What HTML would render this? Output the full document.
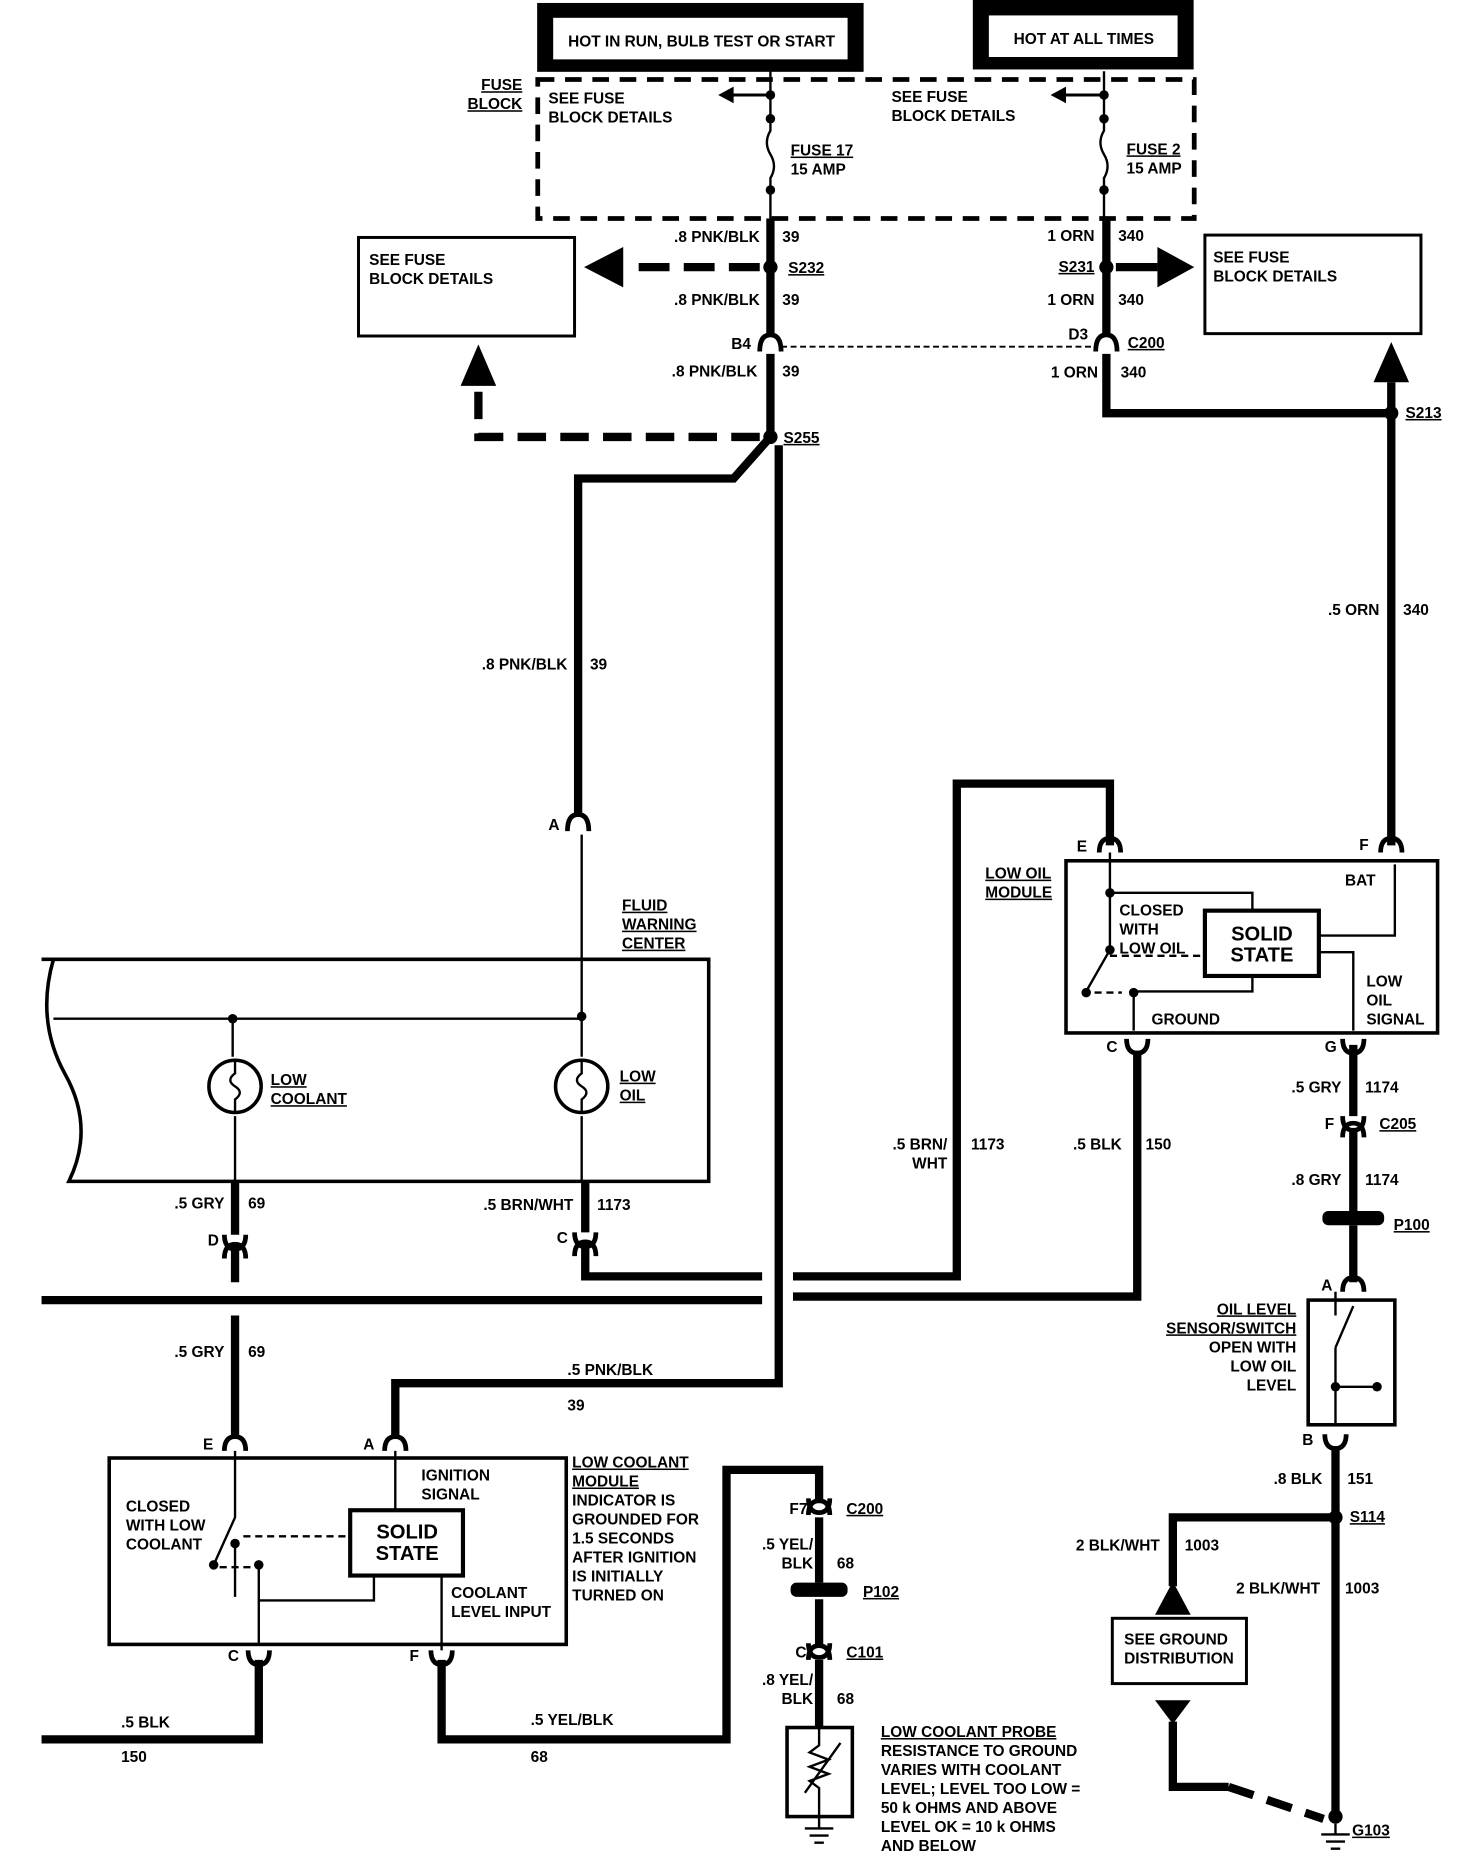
<!DOCTYPE html>
<html><head><meta charset="utf-8"><style>
html,body{margin:0;padding:0;background:#fff;}
svg{display:block;}
text{font-family:"Liberation Sans",sans-serif;font-weight:bold;font-size:13px;fill:#000;}
.u{text-decoration:underline;}
</style></head><body>
<svg width="1472" height="1870" viewBox="0 0 1240 1575" preserveAspectRatio="none" xmlns="http://www.w3.org/2000/svg">
<defs>
<g id="conn"><path d="M-9,8 Q-9,-4 0,-4 Q9,-4 9,8" fill="none" stroke="#000" stroke-width="4"/></g>
</defs>
<g fill="none" stroke="#000">
<!-- top boxes -->
<rect x="453" y="3" width="274" height="57" fill="#000"/>
<rect x="466" y="15" width="248" height="35" fill="#fff" stroke="none"/>
<rect x="820" y="0" width="185" height="58" fill="#000"/>
<rect x="833" y="13" width="159" height="35" fill="#fff" stroke="none"/>
<!-- fuse block dashed -->
<rect x="453" y="67" width="553" height="117" stroke-width="4" stroke-dasharray="14,9"/>
<!-- fuse 17 -->
<path d="M649,60 V110 Q643,120 649,130 Q655,140 649,150 V184" stroke-width="2"/>
<path d="M930,60 V110 Q924,120 930,130 Q936,140 930,150 V184" stroke-width="2"/>
<path d="M649,80 H615 M930,80 H895" stroke-width="2.5"/>
</g>
<g fill="#000">
<circle cx="649" cy="80" r="4"/><circle cx="649" cy="100" r="4"/><circle cx="649" cy="160" r="4"/>
<circle cx="930" cy="80" r="4"/><circle cx="930" cy="100" r="4"/><circle cx="930" cy="160" r="4"/>
<path d="M605,80 L618,73 L618,87Z"/><path d="M885,80 L898,73 L898,87Z"/>
</g>
<g fill="none" stroke="#000" stroke-width="7">
<!-- left main wire -->
<path d="M649,184 V282 M649,298 V368"/>
<path d="M649,368 L618,403 H487 V688"/>
<path d="M656,375 V1165 H333 V1212"/>
<path d="M640,225 H530" stroke-dasharray="26,12"/>
<path d="M640,368 H403 V330" stroke-dasharray="24,12"/>
<!-- right main wire -->
<path d="M932,184 V282 M932,298 V348 H1172 V322"/>
<path d="M1172,348 V712"/>
<path d="M940,225 H975"/>
<!-- BRN/WHT -->
<path d="M493,1048 V1075 H642 M668,1075 H806 V660 H935 V712"/>
<!-- BLK 150 -->
<path d="M958,885 V1092 H668 M642,1095 H35"/>
<!-- fluid center lower wires -->
<path d="M198,995 V1040 M198,1052 V1080 M198,1108 V1212 M493,995 V1038"/>
<!-- low coolant lower -->
<path d="M218,1398 V1465 H35 M372,1398 V1465 H612 V1238 H690 V1266 M690,1278 V1333 M690,1347 V1386 M690,1398 V1455"/>
<!-- right bottom -->
<path d="M1140,880 V940 M1140,952 V1020 M1140,1032 V1080 M1125,1218 V1530 M1125,1278 H988 V1336"/>
<path d="M988,1450 V1505 H1035"/>
<path d="M1035,1505 L1115,1532" stroke-dasharray="22,12"/>
</g>
<!-- thin dashed C200 -->
<path d="M658,292 H925" stroke="#000" stroke-width="1.5" stroke-dasharray="5,3" fill="none"/>
<!-- arrows -->
<g fill="#000">
<path d="M492,225 L525,208 L525,242Z"/>
<path d="M1006,225 L975,208 L975,242Z"/>
<path d="M403,290 L388,325 L418,325Z"/>
<path d="M1172,288 L1157,322 L1187,322Z"/>
<path d="M988,1332 L973,1360 L1003,1360Z"/>
<path d="M988,1452 L973,1432 L1003,1432Z"/>
<circle cx="649" cy="225" r="6"/><circle cx="932" cy="225" r="6"/><circle cx="649" cy="368" r="6"/><circle cx="1172" cy="348" r="6"/><circle cx="1125" cy="1278" r="6"/><circle cx="1125" cy="1530" r="6"/>
</g>
<!-- connectors -->
<g fill="none" stroke="#000" stroke-width="4">
<path d="M640,296 Q640,282 649,282 Q658,282 658,296"/>
<path d="M923,296 Q923,282 932,282 Q941,282 941,296"/>
<path d="M478,700 Q478,686 487,686 Q496,686 496,700"/>
<path d="M926,718 Q926,706 935,706 Q944,706 944,718"/>
<path d="M1163,718 Q1163,706 1172,706 Q1181,706 1181,718"/>
<path d="M949,875 Q949,887 958,887 Q967,887 967,875"/>
<path d="M1131,875 Q1131,887 1140,887 Q1149,887 1149,875"/>
<path d="M1131,940 Q1131,952 1140,952 Q1149,952 1149,940 M1131,958 Q1131,946 1140,946 Q1149,946 1149,958"/>
<path d="M1131,1088 Q1131,1076 1140,1076 Q1149,1076 1149,1088"/>
<path d="M1116,1208 Q1116,1220 1125,1220 Q1134,1220 1134,1208"/>
<path d="M189,1040 Q189,1052 198,1052 Q207,1052 207,1040 M189,1060 Q189,1048 198,1048 Q207,1048 207,1060"/>
<path d="M484,1038 Q484,1050 493,1050 Q502,1050 502,1038 M484,1058 Q484,1046 493,1046 Q502,1046 502,1058"/>
<path d="M189,1222 Q189,1210 198,1210 Q207,1210 207,1222"/>
<path d="M324,1222 Q324,1210 333,1210 Q342,1210 342,1222"/>
<path d="M209,1390 Q209,1402 218,1402 Q227,1402 227,1390"/>
<path d="M363,1390 Q363,1402 372,1402 Q381,1402 381,1390"/>
<path d="M681,1276 Q681,1264 690,1264 Q699,1264 699,1276 M681,1262 Q681,1274 690,1274 Q699,1274 699,1262"/>
<path d="M681,1398 Q681,1386 690,1386 Q699,1386 699,1398 M681,1384 Q681,1396 690,1396 Q699,1396 699,1384"/>
</g>
<g fill="#000"><rect x="1114" y="1020" width="52" height="12" rx="5"/><rect x="666" y="1333" width="48" height="12" rx="5"/></g>
<!-- boxes -->
<g fill="none" stroke="#000">
<rect x="302" y="200" width="182" height="83" stroke-width="2.5"/>
<rect x="1015" y="198" width="182" height="83" stroke-width="2.5"/>
<!-- fluid warning center -->
<path d="M35,808 H597 V995 H58 Q80,950 55,905 Q30,860 45,808" stroke-width="3"/>
<path d="M45,858 H490" stroke-width="2"/>
<path d="M490,703 V890 M196,858 V890 M198,940 V995 M490,940 V995" stroke-width="2"/>
<circle cx="198" cy="915" r="22" stroke-width="3"/><circle cx="490" cy="915" r="22" stroke-width="3"/>
<path d="M198,893 V904 Q190,910 198,915 Q206,920 198,926 V937 M490,893 V904 Q482,910 490,915 Q498,920 490,926 V937" stroke-width="2"/>
<!-- low oil module -->
<rect x="898" y="725" width="313" height="145" stroke-width="3"/>
<rect x="1015" y="767" width="96" height="55" stroke-width="3.5"/>
<path d="M935,718 V800 L915,835 M935,752 H1055 V767 M1111,788 H1175 V728 M1111,802 H1140 V868 M1055,822 V835 H955 V868" stroke-width="2"/>
<path d="M935,805 H1013 M922,836 H945" stroke-width="2" stroke-dasharray="6,4"/>
<!-- oil level sensor -->
<rect x="1102" y="1095" width="73" height="105" stroke-width="3"/>
<path d="M1125,1088 V1108 M1125,1135 L1140,1100 M1125,1135 V1200 M1125,1168 H1158" stroke-width="2"/>
<!-- ground distribution box -->
<rect x="937" y="1363" width="113" height="55" stroke-width="2.5"/>
<!-- low coolant module -->
<rect x="92" y="1228" width="385" height="157" stroke-width="3"/>
<rect x="295" y="1272" width="95" height="55" stroke-width="3.5"/>
<path d="M198,1222 V1278 L180,1318 M198,1300 V1345 M333,1222 V1272 M218,1318 V1385 M218,1348 H315 V1327 M372,1327 V1390" stroke-width="2"/>
<path d="M205,1294 H293 M185,1320 H212" stroke-width="2" stroke-dasharray="6,4"/>
<!-- probe -->
<rect x="663" y="1455" width="55" height="75" stroke-width="3"/>
<path d="M690,1455 V1470 L682,1476 L698,1482 L682,1488 L698,1494 L682,1500 L690,1506 V1530 M678,1510 L708,1468 M690,1530 V1540 M678,1540 H702 M682,1546 H698 M686,1552 H694" stroke-width="2"/>
<path d="M1125,1536 V1545 M1113,1545 H1137 M1117,1551 H1133 M1121,1557 H1129" stroke-width="2"/>
</g>
<g fill="#000">
<circle cx="935" cy="752" r="4"/><circle cx="935" cy="800" r="4"/><circle cx="915" cy="836" r="4"/><circle cx="955" cy="836" r="4"/>
<circle cx="1125" cy="1168" r="4"/><circle cx="1160" cy="1168" r="4"/>
<circle cx="198" cy="1300" r="4"/><circle cx="180" cy="1318" r="4"/><circle cx="218" cy="1318" r="4"/>
<circle cx="196" cy="858" r="4"/><circle cx="490" cy="856" r="4"/>
</g>
<!-- text -->
<text x="591" y="39" text-anchor="middle">HOT IN RUN, BULB TEST OR START</text>
<text x="913" y="37" text-anchor="middle">HOT AT ALL TIMES</text>
<text x="440" y="76" text-anchor="end" class="u">FUSE</text><text x="440" y="92" text-anchor="end" class="u">BLOCK</text>
<text x="462" y="87">SEE FUSE</text><text x="462" y="103">BLOCK DETAILS</text>
<text x="751" y="86">SEE FUSE</text><text x="751" y="102">BLOCK DETAILS</text>
<text x="666" y="131" class="u">FUSE 17</text><text x="666" y="147">15 AMP</text>
<text x="949" y="130" class="u">FUSE 2</text><text x="949" y="146">15 AMP</text>
<text x="640" y="204" text-anchor="end">.8 PNK/BLK</text><text x="659" y="204">39</text>
<text x="640" y="257" text-anchor="end">.8 PNK/BLK</text><text x="659" y="257">39</text>
<text x="638" y="317" text-anchor="end">.8 PNK/BLK</text><text x="659" y="317">39</text>
<text x="664" y="230" class="u">S232</text><text x="660" y="373" class="u">S255</text>
<text x="616" y="294">B4</text>
<text x="311" y="223">SEE FUSE</text><text x="311" y="239">BLOCK DETAILS</text>
<text x="1022" y="221">SEE FUSE</text><text x="1022" y="237">BLOCK DETAILS</text>
<text x="922" y="203" text-anchor="end">1 ORN</text><text x="942" y="203">340</text>
<text x="922" y="257" text-anchor="end">1 ORN</text><text x="942" y="257">340</text>
<text x="925" y="318" text-anchor="end">1 ORN</text><text x="944" y="318">340</text>
<text x="922" y="229" text-anchor="end" class="u">S231</text>
<text x="900" y="286">D3</text><text x="950" y="293" class="u">C200</text>
<text x="1184" y="352" class="u">S213</text>
<text x="1162" y="518" text-anchor="end">.5 ORN</text><text x="1182" y="518">340</text>
<text x="478" y="564" text-anchor="end">.8 PNK/BLK</text><text x="497" y="564">39</text>
<text x="462" y="699">A</text>
<text x="524" y="767" class="u">FLUID</text><text x="524" y="783" class="u">WARNING</text><text x="524" y="799" class="u">CENTER</text>
<text x="228" y="914" class="u">LOW</text><text x="228" y="930" class="u">COOLANT</text>
<text x="522" y="911" class="u">LOW</text><text x="522" y="927" class="u">OIL</text>
<text x="830" y="740" class="u">LOW OIL</text><text x="830" y="756" class="u">MODULE</text>
<text x="907" y="717">E</text><text x="1145" y="716">F</text>
<text x="1133" y="746">BAT</text>
<text x="943" y="771">CLOSED</text><text x="943" y="787">WITH</text><text x="943" y="803">LOW OIL</text>
<text x="1063" y="792" text-anchor="middle" style="font-size:17px">SOLID</text><text x="1063" y="810" text-anchor="middle" style="font-size:17px">STATE</text>
<text x="1151" y="831">LOW</text><text x="1151" y="847">OIL</text><text x="1151" y="863">SIGNAL</text>
<text x="970" y="863">GROUND</text>
<text x="932" y="886">C</text><text x="1116" y="886">G</text>
<text x="1130" y="920" text-anchor="end">.5 GRY</text><text x="1150" y="920">1174</text>
<text x="1116" y="951">F</text><text x="1162" y="951" class="u">C205</text>
<text x="1130" y="998" text-anchor="end">.8 GRY</text><text x="1150" y="998">1174</text>
<text x="1174" y="1036" class="u">P100</text>
<text x="1113" y="1087">A</text>
<text x="1092" y="1107" text-anchor="end" class="u">OIL LEVEL</text><text x="1092" y="1123" text-anchor="end" class="u">SENSOR/SWITCH</text>
<text x="1092" y="1139" text-anchor="end">OPEN WITH</text><text x="1092" y="1155" text-anchor="end">LOW OIL</text><text x="1092" y="1171" text-anchor="end">LEVEL</text>
<text x="1097" y="1217">B</text>
<text x="1114" y="1250" text-anchor="end">.8 BLK</text><text x="1135" y="1250">151</text>
<text x="1137" y="1282" class="u">S114</text>
<text x="977" y="1306" text-anchor="end">2 BLK/WHT</text><text x="998" y="1306">1003</text>
<text x="1112" y="1342" text-anchor="end">2 BLK/WHT</text><text x="1133" y="1342">1003</text>
<text x="947" y="1385">SEE GROUND</text><text x="947" y="1401">DISTRIBUTION</text>
<text x="1139" y="1546" class="u">G103</text>
<text x="945" y="968" text-anchor="end">.5 BLK</text><text x="965" y="968">150</text>
<text x="798" y="968" text-anchor="end">.5 BRN/</text><text x="798" y="984" text-anchor="end">WHT</text><text x="818" y="968">1173</text>
<text x="189" y="1018" text-anchor="end">.5 GRY</text><text x="209" y="1018">69</text>
<text x="483" y="1019" text-anchor="end">.5 BRN/WHT</text><text x="503" y="1019">1173</text>
<text x="175" y="1049">D</text><text x="469" y="1047">C</text>
<text x="189" y="1143" text-anchor="end">.5 GRY</text><text x="209" y="1143">69</text>
<text x="478" y="1158">.5 PNK/BLK</text><text x="478" y="1188">39</text>
<text x="171" y="1221">E</text><text x="306" y="1221">A</text>
<text x="106" y="1273">CLOSED</text><text x="106" y="1289">WITH LOW</text><text x="106" y="1305">COOLANT</text>
<text x="355" y="1247">IGNITION</text><text x="355" y="1263">SIGNAL</text>
<text x="343" y="1296" text-anchor="middle" style="font-size:17px">SOLID</text><text x="343" y="1314" text-anchor="middle" style="font-size:17px">STATE</text>
<text x="380" y="1346">COOLANT</text><text x="380" y="1362">LEVEL INPUT</text>
<text x="482" y="1236" class="u">LOW COOLANT</text><text x="482" y="1252" class="u">MODULE</text>
<text x="482" y="1268">INDICATOR IS</text><text x="482" y="1284">GROUNDED FOR</text><text x="482" y="1300">1.5 SECONDS</text><text x="482" y="1316">AFTER IGNITION</text><text x="482" y="1332">IS INITIALLY</text><text x="482" y="1348">TURNED ON</text>
<text x="192" y="1399">C</text><text x="345" y="1399">F</text>
<text x="102" y="1455">.5 BLK</text><text x="102" y="1484">150</text>
<text x="447" y="1453">.5 YEL/BLK</text><text x="447" y="1484">68</text>
<text x="665" y="1275">F7</text><text x="713" y="1275" class="u">C200</text>
<text x="685" y="1305" text-anchor="end">.5 YEL/</text><text x="685" y="1321" text-anchor="end">BLK</text><text x="705" y="1321">68</text>
<text x="727" y="1345" class="u">P102</text>
<text x="670" y="1396">C</text><text x="713" y="1396" class="u">C101</text>
<text x="685" y="1419" text-anchor="end">.8 YEL/</text><text x="685" y="1435" text-anchor="end">BLK</text><text x="705" y="1435">68</text>
<text x="742" y="1463" class="u">LOW COOLANT PROBE</text><text x="742" y="1479">RESISTANCE TO GROUND</text><text x="742" y="1495">VARIES WITH COOLANT</text><text x="742" y="1511">LEVEL;  LEVEL TOO LOW =</text><text x="742" y="1527">50 k OHMS AND ABOVE</text><text x="742" y="1543">LEVEL OK = 10 k OHMS</text><text x="742" y="1559">AND BELOW</text>
</svg>
</body></html>
